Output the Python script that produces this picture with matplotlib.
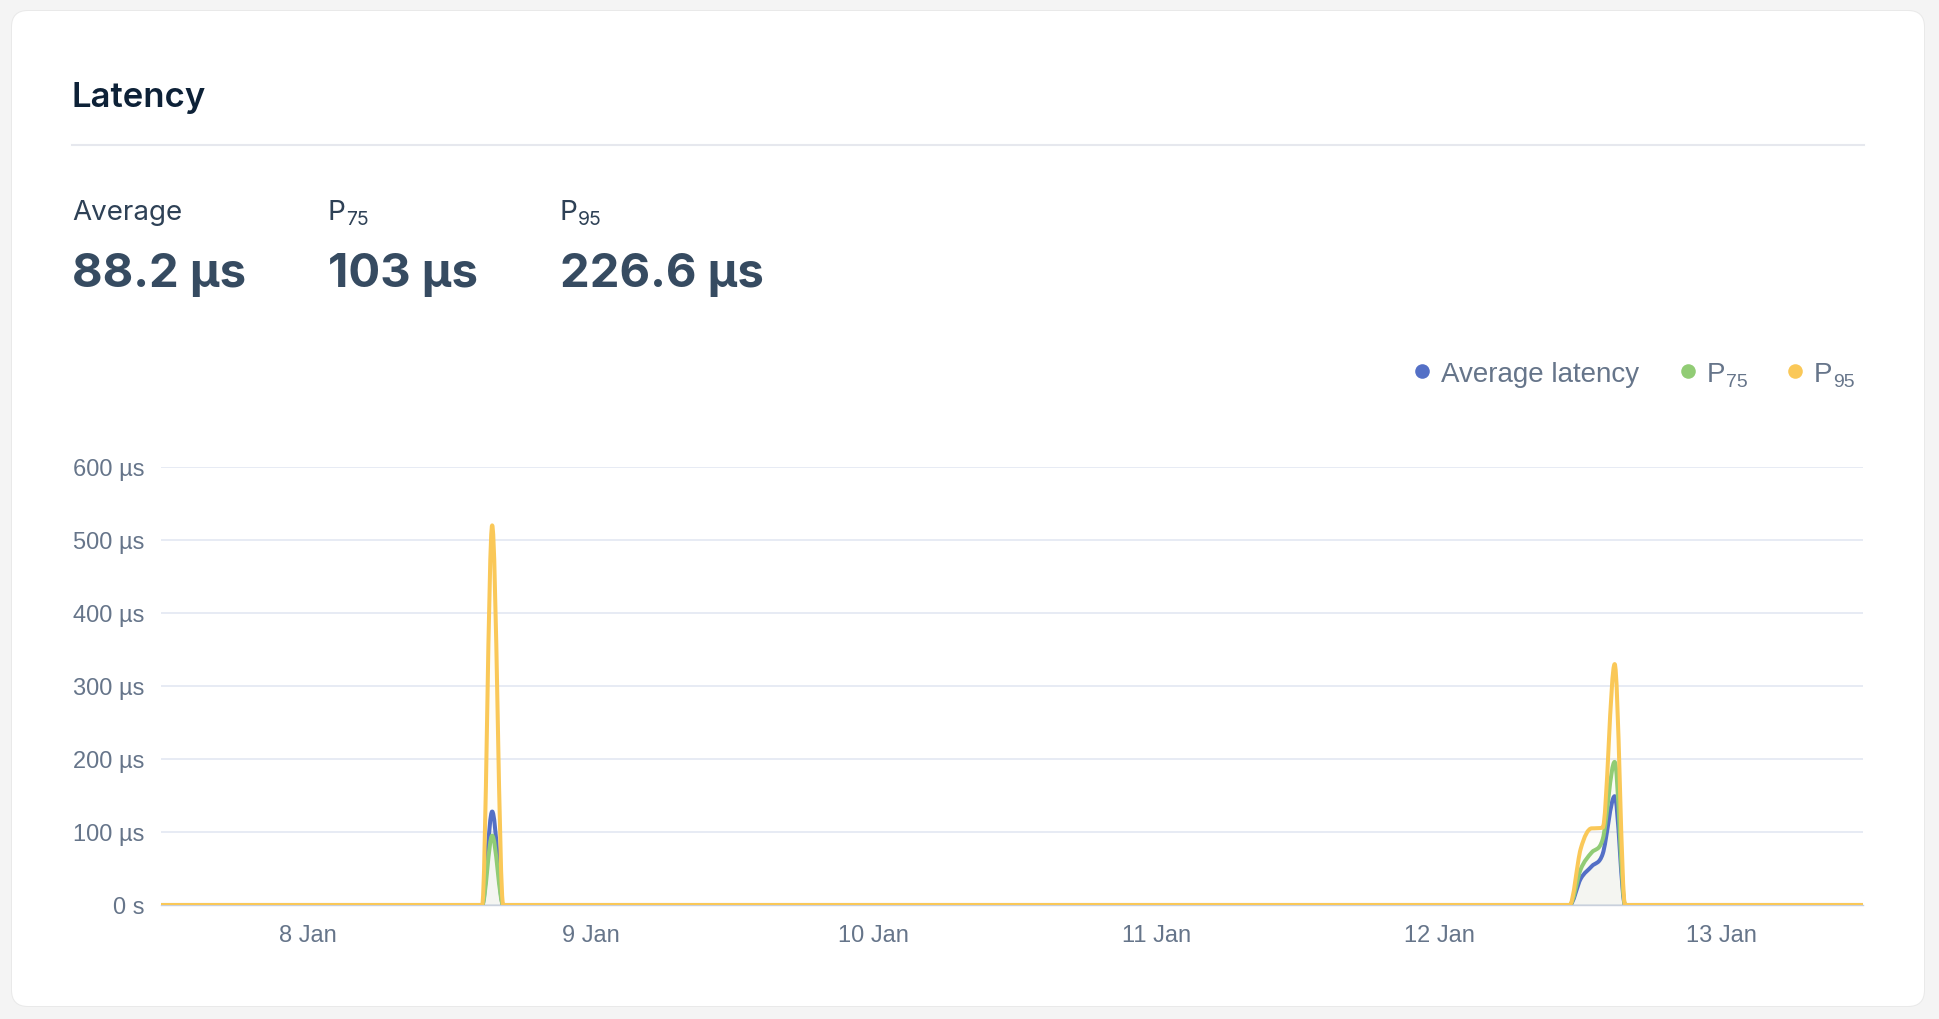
import numpy as np
import pandas as pd
import matplotlib
matplotlib.use('Agg')
import matplotlib.pyplot as plt
import matplotlib.dates as mdates
from matplotlib.patches import FancyBboxPatch, PathPatch
from matplotlib.path import Path

# values (latency in µs)
times = ['2024-01-07 11:30',
         '2024-01-08 14:46', '2024-01-08 15:37', '2024-01-08 16:33',
         '2024-01-12 11:06', '2024-01-12 12:02', '2024-01-12 12:58',
         '2024-01-12 13:54', '2024-01-12 14:55', '2024-01-12 15:48',
         '2024-01-13 12:00']
avg_us = [0, 0, 128, 0, 0, 36, 53, 70, 149, 0, 0]
p75_us = [0, 0, 95, 0, 0, 49, 72, 90, 196, 0, 0]
p95_us = [0, 0, 520, 0, 0, 77, 105, 106, 330, 0, 0]

series_names = ['Average latency', 'P', 'P']
series_subs = ['', '75', '95']
series_colors = ['#5470c6', '#91cc75', '#fac858']

stat_names = ['Average', 'P', 'P']
stat_subs = ['', '75', '95']
stat_values = ['88.2 µs', '103 µs', '226.6 µs']

x_tick_dates = ['2024-01-08', '2024-01-09', '2024-01-10', '2024-01-11', '2024-01-12', '2024-01-13']
x_tick_labels = ['8 Jan', '9 Jan', '10 Jan', '11 Jan', '12 Jan', '13 Jan']
y_ticks = [0, 100, 200, 300, 400, 500, 600]
y_tick_labels = ['0 s', '100 µs', '200 µs', '300 µs', '400 µs', '500 µs', '600 µs']

W, H = 1940, 1020
UI = ['Inter', 'DejaVu Sans']
CH = ['Liberation Sans', 'DejaVu Sans']
label_col = '#66758a'


def monotone_path(x, y):
    # monotone cubic (like chart libs' smooth lines) as bezier segments
    x = np.asarray(x, float)
    y = np.asarray(y, float)
    n = len(x)
    h = np.diff(x)
    d = np.diff(y) / h
    m = np.zeros(n)
    m[0], m[-1] = d[0], d[-1]
    for k in range(1, n - 1):
        m[k] = 0 if d[k - 1] * d[k] <= 0 else (d[k - 1] + d[k]) / 2
    for k in range(n - 1):
        if d[k] == 0:
            m[k] = m[k + 1] = 0
            continue
        a, b = m[k] / d[k], m[k + 1] / d[k]
        s = a * a + b * b
        if s > 9:
            tau = 3 / np.sqrt(s)
            m[k], m[k + 1] = tau * a * d[k], tau * b * d[k]
    verts = [(x[0], y[0])]
    codes = [Path.MOVETO]
    for k in range(n - 1):
        verts += [(x[k] + h[k] / 3, y[k] + m[k] * h[k] / 3),
                  (x[k + 1] - h[k] / 3, y[k + 1] - m[k + 1] * h[k] / 3),
                  (x[k + 1], y[k + 1])]
        codes += [Path.CURVE4] * 3
    return verts, codes


fig = plt.figure(figsize=(W / 100, H / 100), dpi=100)
fig.patch.set_facecolor('#f4f4f4')

# background axes in pixel coords (y down)
bg = fig.add_axes([0, 0, 1, 1], zorder=0)
bg.set_xlim(0, W)
bg.set_ylim(H, 0)
bg.axis('off')

bg.add_patch(FancyBboxPatch((11, 11), 1914, 997, boxstyle='round,pad=0,rounding_size=17',
                            fc='#e9e9e9', ec='none'))
bg.add_patch(FancyBboxPatch((12, 12), 1912, 995, boxstyle='round,pad=0,rounding_size=16',
                            fc='white', ec='none'))

bg.text(72, 107, 'Latency', family=UI, size=25, weight='semibold', color='#0d2137', va='baseline')
bg.plot([72, 1864], [146, 146], color='#e6e8ee', lw=1.5)

fig.canvas.draw()
renderer = fig.canvas.get_renderer()


def with_sub(x, y, main, sub, size, sub_size, color, family, dy, weight='normal'):
    t = bg.text(x, y, main, family=family, size=size, color=color, va='baseline', weight=weight)
    if sub:
        bb = t.get_window_extent(renderer)
        bg.text(bb.x1 + 0.5, y + dy, sub, family=family, size=sub_size, color=color, va='baseline')


stat_x = [72, 328, 560]
for sx, name, sub, val in zip(stat_x, stat_names, stat_subs, stat_values):
    with_sub(sx, 220, name, sub, 20, 14, '#2e4156', UI, 5)
    bg.text(sx, 287, val, family=UI, size=34, weight='bold', color='#364b61', va='baseline')

# legend
leg_dot_x = [1422, 1688, 1795]
for lx, name, sub, col in zip(leg_dot_x, series_names, series_subs, series_colors):
    bg.plot(lx, 372, 'o', ms=10.5, color=col, mec='none')
    with_sub(lx + 19, 382, name, sub, 20, 14, label_col, CH, 5)

# chart
ax = fig.add_axes([161 / W, 1 - 906 / H, (1863 - 161) / W, (906 - 468) / H], zorder=1)
ax.set_facecolor('none')
x = mdates.date2num(pd.to_datetime(times))

for vals, col, z in zip([avg_us, p75_us, p95_us], series_colors, [3, 4, 5]):
    verts, codes = monotone_path(x, vals)
    fill_verts = verts + [(x[-1], 0), (x[0], 0), (x[0], 0)]
    fill_codes = codes + [Path.LINETO, Path.LINETO, Path.CLOSEPOLY]
    ax.add_patch(PathPatch(Path(fill_verts, fill_codes), fc=col, ec='none', alpha=0.035, zorder=2))
    ax.add_patch(PathPatch(Path(verts, codes), fill=False, ec=col, lw=2.9,
                           capstyle='round', joinstyle='round', zorder=z))

ax.set_xlim(x[0], x[-1])
ax.set_ylim(0, 600)
ax.set_yticks(y_ticks)
ax.set_yticklabels(y_tick_labels)
ax.set_xticks(mdates.date2num(pd.to_datetime(x_tick_dates)))
ax.set_xticklabels(x_tick_labels)
for lab in ax.get_xticklabels() + ax.get_yticklabels():
    lab.set_family(CH)
    lab.set_fontsize(17)
    lab.set_color(label_col)
ax.tick_params(axis='both', length=0)
ax.tick_params(axis='y', pad=12)
ax.tick_params(axis='x', pad=14)
ax.yaxis.grid(True, color='#e0e6f1', lw=1.1)
ax.set_axisbelow(True)
for s in ['left', 'right', 'top']:
    ax.spines[s].set_visible(False)
ax.spines['bottom'].set_color('#c9d0dc')
ax.spines['bottom'].set_linewidth(1)

fig.savefig('out.png', dpi=100, facecolor=fig.get_facecolor())
